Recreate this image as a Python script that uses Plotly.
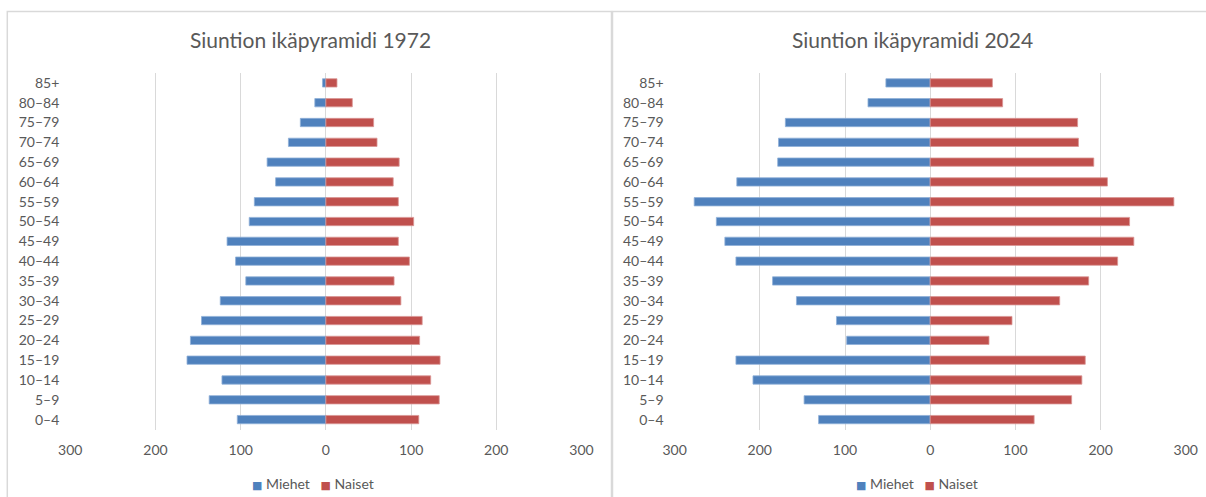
import plotly.graph_objects as go

W, H = 1206, 497

age_groups = ["0–4", "5–9", "10–14", "15–19", "20–24", "25–29", "30–34", "35–39",
              "40–44", "45–49", "50–54", "55–59", "60–64", "65–69", "70–74",
              "75–79", "80–84", "85+"]

men_1972 = [104, 137, 122, 163, 159, 146, 124, 94, 106, 116, 90, 84, 59, 69, 44, 30, 13, 4]
women_1972 = [109, 133, 123, 134, 110, 113, 88, 80, 98, 85, 103, 85, 79, 86, 60, 56, 31, 13]

men_2024 = [131, 148, 208, 228, 98, 110, 157, 185, 228, 241, 251, 277, 227, 179, 178, 170, 73, 52]
women_2024 = [122, 166, 178, 182, 69, 96, 152, 186, 220, 239, 234, 286, 208, 192, 174, 173, 85, 73]

titles = ["Siuntion ikäpyramidi 1972", "Siuntion ikäpyramidi 2024"]
tick_vals = [-300, -200, -100, 0, 100, 200, 300]
tick_text = ["300", "200", "100", "0", "100", "200", "300"]
series_names = ["Miehet", "Naiset"]

BLUE = "#4F81BD"
RED = "#C0504D"
GRID = "#D9D9D9"
TXT = "#595959"
FONT = "Lato"

def px_x(p):
    return p / W

def px_y(p):
    return 1 - p / H

fig = go.Figure()

datasets = [(men_1972, women_1972), (men_2024, women_2024)]
for i, (men, women) in enumerate(datasets):
    xa = "x" if i == 0 else "x2"
    ya = "y" if i == 0 else "y2"
    fig.add_trace(go.Bar(
        y=age_groups, x=[-v for v in men], orientation="h", name=series_names[0],
        marker=dict(color=BLUE, line=dict(color="#8FB0D8", width=0.8)),
        xaxis=xa, yaxis=ya, showlegend=False, hoverinfo="skip"))
    fig.add_trace(go.Bar(
        y=age_groups, x=women, orientation="h", name=series_names[1],
        marker=dict(color=RED, line=dict(color="#D99694", width=0.8)),
        xaxis=xa, yaxis=ya, showlegend=False, hoverinfo="skip"))

y_dom = [px_y(429.5), px_y(73)]
x_doms = [[px_x(70.3), px_x(581.5)], [px_x(674.6), px_x(1185.8)]]

axis_common = dict(
    range=[-300, 300], tickvals=tick_vals, ticktext=tick_text,
    showgrid=True, gridcolor=GRID, gridwidth=1, zeroline=False,
    showline=False, ticks="", tickfont=dict(family=FONT, size=14, color=TXT),
    ticklabelstandoff=10, fixedrange=True, automargin=False)
yaxis_common = dict(
    type="category", categoryorder="array", categoryarray=age_groups,
    showgrid=False, zeroline=False, showline=False, ticks="",
    tickfont=dict(family=FONT, size=14, color=TXT), ticklabelstandoff=10,
    domain=y_dom, fixedrange=True, automargin=False)

fig.update_layout(
    width=W, height=H,
    autosize=False,
    margin=dict(l=0, r=0, t=0, b=0, pad=0, autoexpand=False),
    paper_bgcolor="white", plot_bgcolor="white",
    barmode="relative", bargap=0.58,
    xaxis=dict(domain=x_doms[0], anchor="y", **axis_common),
    xaxis2=dict(domain=x_doms[1], anchor="y2", **axis_common),
    yaxis=dict(anchor="x", **yaxis_common),
    yaxis2=dict(anchor="x2", **yaxis_common),
    showlegend=False,
)

# chart titles
for cx, t in zip([310, 912], titles):
    fig.add_annotation(text=t, x=px_x(cx), y=px_y(40), xref="paper", yref="paper",
                       showarrow=False, xanchor="center", yanchor="middle",
                       font=dict(family=FONT, size=21, color=TXT))

# Excel-style legends (colour key + series names) under each chart
sq = "<span style='color:{c};font-family:DejaVu Sans;font-size:11px'>■</span>"
legend_text = (sq.format(c=BLUE) + "&nbsp;" + series_names[0] + "&nbsp;&nbsp;&nbsp;"
               + sq.format(c=RED) + "&nbsp;" + series_names[1])
for cx in [312.5, 916.7]:
    fig.add_annotation(text=legend_text, x=px_x(cx), y=px_y(483),
                       xref="paper", yref="paper", showarrow=False,
                       xanchor="center", yanchor="middle",
                       font=dict(family=FONT, size=14, color=TXT))

# chart area borders (two Excel charts side by side)
fig.add_shape(type="rect", xref="paper", yref="paper",
              x0=px_x(7.3), x1=px_x(611.5), y0=px_y(510), y1=px_y(11.5),
              line=dict(color=GRID, width=1.5))
fig.add_shape(type="rect", xref="paper", yref="paper",
              x0=px_x(612.5), x1=px_x(1220), y0=px_y(510), y1=px_y(11.5),
              line=dict(color=GRID, width=1.5))

fig.write_html("out.html",
               config={"displayModeBar": False, "staticPlot": True},
               post_script="document.body.style.margin='0';document.body.style.overflow='hidden';")
